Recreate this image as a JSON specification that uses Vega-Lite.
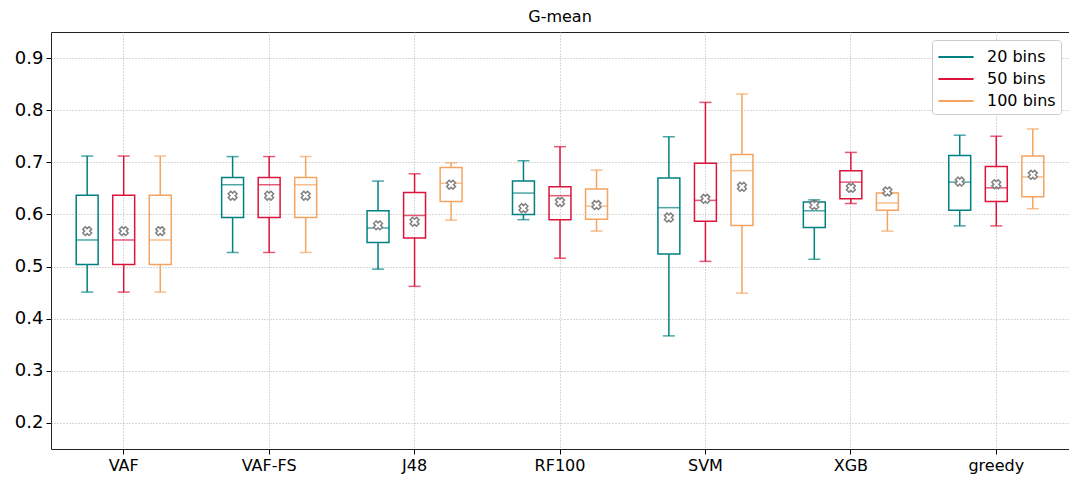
{
  "$schema": "https://vega.github.io/schema/vega-lite/v6.json",
  "width": 1018,
  "height": 417,
  "autosize": {"type": "none"},
  "padding": {"left": 51, "top": 32, "right": 0, "bottom": 31},
  "background": "white",
  "config": {
    "font": "DejaVu Sans",
    "view": {"stroke": "#222", "strokeWidth": 1},
    "axis": {"labelColor": "black", "tickColor": "black", "domain": false, "gridColor": "#b0b0b0", "gridDash": [1, 2], "gridWidth": 1, "labelFont": "DejaVu Sans"}
  },
  "title": {"text": "G-mean", "fontSize": 16, "fontWeight": "normal", "font": "DejaVu Sans", "offset": 7, "color": "black"},
  "data": {
    "values": [
      {"model": "VAF", "bins": "20 bins", "min": 0.451, "q1": 0.504, "median": 0.551, "q3": 0.637, "max": 0.712, "mean": 0.568},
      {"model": "VAF", "bins": "50 bins", "min": 0.451, "q1": 0.504, "median": 0.551, "q3": 0.637, "max": 0.712, "mean": 0.568},
      {"model": "VAF", "bins": "100 bins", "min": 0.451, "q1": 0.504, "median": 0.551, "q3": 0.637, "max": 0.712, "mean": 0.568},
      {"model": "VAF-FS", "bins": "20 bins", "min": 0.527, "q1": 0.594, "median": 0.657, "q3": 0.671, "max": 0.711, "mean": 0.636},
      {"model": "VAF-FS", "bins": "50 bins", "min": 0.527, "q1": 0.594, "median": 0.657, "q3": 0.671, "max": 0.711, "mean": 0.636},
      {"model": "VAF-FS", "bins": "100 bins", "min": 0.527, "q1": 0.594, "median": 0.657, "q3": 0.671, "max": 0.711, "mean": 0.636},
      {"model": "J48", "bins": "20 bins", "min": 0.495, "q1": 0.546, "median": 0.574, "q3": 0.607, "max": 0.664, "mean": 0.579},
      {"model": "J48", "bins": "50 bins", "min": 0.462, "q1": 0.555, "median": 0.598, "q3": 0.642, "max": 0.678, "mean": 0.586},
      {"model": "J48", "bins": "100 bins", "min": 0.589, "q1": 0.625, "median": 0.660, "q3": 0.690, "max": 0.699, "mean": 0.657},
      {"model": "RF100", "bins": "20 bins", "min": 0.590, "q1": 0.600, "median": 0.641, "q3": 0.664, "max": 0.703, "mean": 0.612},
      {"model": "RF100", "bins": "50 bins", "min": 0.516, "q1": 0.590, "median": 0.636, "q3": 0.653, "max": 0.730, "mean": 0.624},
      {"model": "RF100", "bins": "100 bins", "min": 0.568, "q1": 0.591, "median": 0.616, "q3": 0.649, "max": 0.685, "mean": 0.618},
      {"model": "SVM", "bins": "20 bins", "min": 0.367, "q1": 0.524, "median": 0.613, "q3": 0.670, "max": 0.749, "mean": 0.594},
      {"model": "SVM", "bins": "50 bins", "min": 0.510, "q1": 0.587, "median": 0.627, "q3": 0.698, "max": 0.815, "mean": 0.630},
      {"model": "SVM", "bins": "100 bins", "min": 0.449, "q1": 0.579, "median": 0.684, "q3": 0.715, "max": 0.831, "mean": 0.653},
      {"model": "XGB", "bins": "20 bins", "min": 0.514, "q1": 0.575, "median": 0.607, "q3": 0.624, "max": 0.628, "mean": 0.618},
      {"model": "XGB", "bins": "50 bins", "min": 0.621, "q1": 0.630, "median": 0.662, "q3": 0.684, "max": 0.719, "mean": 0.651},
      {"model": "XGB", "bins": "100 bins", "min": 0.568, "q1": 0.608, "median": 0.622, "q3": 0.641, "max": 0.642, "mean": 0.644},
      {"model": "greedy", "bins": "20 bins", "min": 0.578, "q1": 0.608, "median": 0.662, "q3": 0.713, "max": 0.752, "mean": 0.663},
      {"model": "greedy", "bins": "50 bins", "min": 0.578, "q1": 0.625, "median": 0.651, "q3": 0.692, "max": 0.750, "mean": 0.658},
      {"model": "greedy", "bins": "100 bins", "min": 0.611, "q1": 0.634, "median": 0.672, "q3": 0.712, "max": 0.764, "mean": 0.676}
    ]
  },
  "encoding": {
    "x": {
      "field": "model", "type": "nominal",
      "sort": ["VAF", "VAF-FS", "J48", "RF100", "SVM", "XGB", "greedy"],
      "scale": {"paddingInner": 0, "paddingOuter": 0},
      "axis": {"title": null, "labelAngle": 0, "labelFontSize": 16, "tickSize": 5, "labelPadding": 3, "grid": true, "bandPosition": 0.5}
    },
    "xOffset": {
      "field": "bins", "type": "nominal",
      "sort": ["20 bins", "50 bins", "100 bins"],
      "scale": {"paddingInner": 0.4, "paddingOuter": 0.69}
    }
  },
  "layer": [
    {
      "mark": {"type": "rule", "strokeWidth": 1.5},
      "encoding": {
        "y": {"field": "min", "type": "quantitative", "scale": {"domain": [0.15, 0.95], "nice": false, "zero": false},
          "axis": {"title": null, "values": [0.2, 0.3, 0.4, 0.5, 0.6, 0.7, 0.8, 0.9], "format": ".1f", "labelFontSize": 18, "tickSize": 5, "labelPadding": 3, "grid": true}},
        "y2": {"field": "q1"},
        "stroke": {
          "field": "bins", "type": "nominal",
          "scale": {"domain": ["20 bins", "50 bins", "100 bins"], "range": ["#008080", "#dc143c", "#f4a460"]},
          "legend": {
            "title": null, "orient": "top-right", "offset": 8,
            "symbolType": "M-1.6,0L1.6,0", "symbolSize": 484, "symbolStrokeWidth": 2, "symbolOffset": 7,
            "labelFontSize": 16, "labelFont": "DejaVu Sans", "labelColor": "black", "labelOffset": 19,
            "rowPadding": 2, "padding": 5, "strokeColor": "#cccccc", "fillColor": "white", "cornerRadius": 3
          }
        }
      }
    },
    {
      "mark": {"type": "rule", "strokeWidth": 1.5},
      "encoding": {
        "y": {"field": "q3", "type": "quantitative"},
        "y2": {"field": "max"},
        "stroke": {"field": "bins", "type": "nominal"}
      }
    },
    {
      "mark": {"type": "bar", "filled": false, "strokeWidth": 1.5, "fill": null},
      "encoding": {
        "y": {"field": "q1", "type": "quantitative"},
        "y2": {"field": "q3"},
        "stroke": {"field": "bins", "type": "nominal"}
      }
    },
    {
      "mark": {"type": "tick", "thickness": 1.5, "size": 22},
      "encoding": {
        "y": {"field": "median", "type": "quantitative"},
        "color": {"field": "bins", "type": "nominal", "scale": {"domain": ["20 bins", "50 bins", "100 bins"], "range": ["#008080", "#dc143c", "#f4a460"]}, "legend": null}
      }
    },
    {
      "mark": {"type": "tick", "thickness": 1.5, "size": 12},
      "encoding": {
        "y": {"field": "min", "type": "quantitative"},
        "color": {"field": "bins", "type": "nominal", "legend": null}
      }
    },
    {
      "mark": {"type": "tick", "thickness": 1.5, "size": 12},
      "encoding": {
        "y": {"field": "max", "type": "quantitative"},
        "color": {"field": "bins", "type": "nominal", "legend": null}
      }
    },
    {
      "mark": {"type": "point", "shape": "cross", "angle": 45, "filled": true, "fill": "white", "stroke": "#808080", "strokeWidth": 1.5, "size": 80, "opacity": 1},
      "encoding": {
        "y": {"field": "mean", "type": "quantitative"}
      }
    }
  ]
}
